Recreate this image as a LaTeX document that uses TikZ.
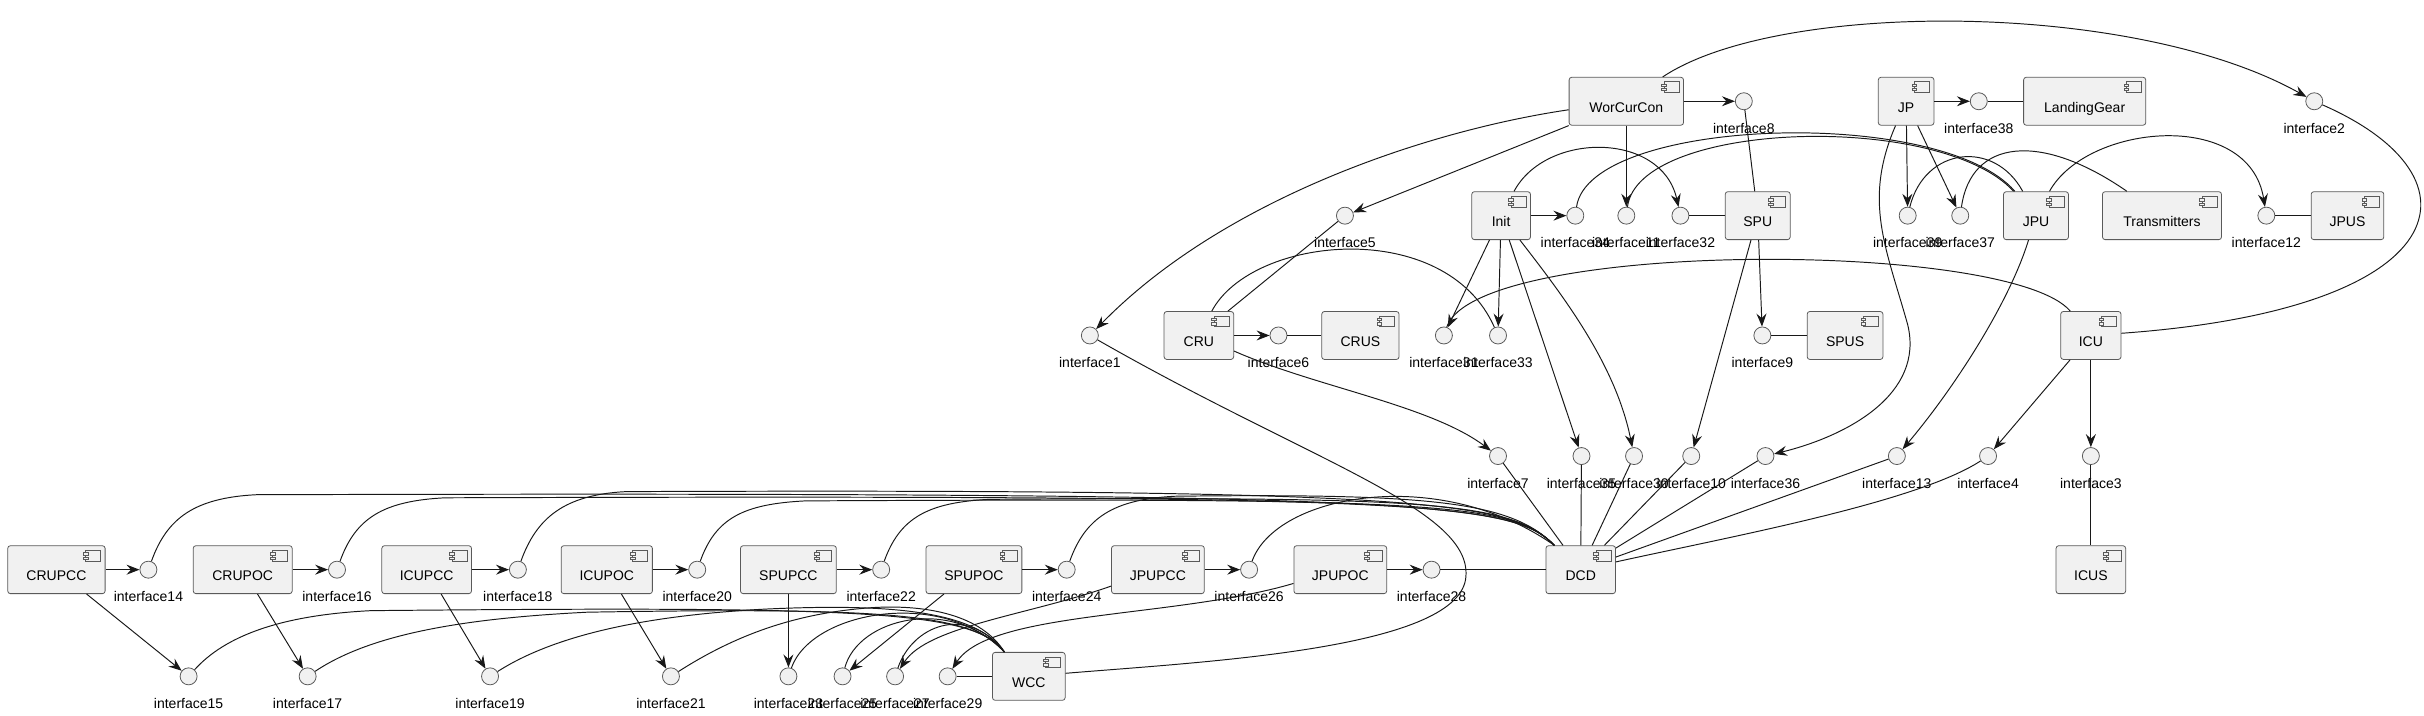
\documentclass[tikz,border=0pt]{standalone}
\usepackage{fontspec}
\setmainfont{Liberation Sans}
\usepackage{tikz}
\usetikzlibrary{arrows.meta, calc}
\definecolor{linec}{HTML}{181818}
\definecolor{boxline}{HTML}{5A5A5A}
\definecolor{boxfill}{HTML}{F1F1F1}
\newcommand{\upx}{0.03092cm}
\newcommand{\plfont}{\fontsize{7.97pt}{9.5pt}\selectfont}
\tikzset{
  unit box/.style={
    draw=boxline, fill=boxfill, line width=0.45pt,
    rounded corners=1.5pt,
    minimum height=31*\upx,
    inner sep=0pt, text height=12.5pt, text depth=0pt,
    font=\plfont
  },
  port/.style={
    circle, draw=boxline, fill=boxfill, line width=0.45pt,
    minimum size=11*\upx, inner sep=0pt
  },
  port label/.style={anchor=base, label distance=0.461cm, inner sep=0pt, font=\plfont},
  unit icon/.style={draw=boxline, fill=boxfill, line width=0.4pt},
  wire/.style={draw=linec, line width=0.55pt},
  use arrow/.style={wire, -{Stealth[length=0.26cm, width=0.2cm, inset=0.09cm]}}
}

\begin{document}
\begin{tikzpicture}[x=0.03092cm, y=-0.03092cm]
  \useasboundingbox (0,0) rectangle (1568,463);

  % components
  \foreach \n/\x/\y/\w in {WorCurCon/1052/65.5/74, JP/1233/65.5/36, LandingGear/1348.5/65.5/79,
      Init/971/139.5/38, SPU/1137/139.5/42, JPU/1317/139.5/42, Transmitters/1398.5/139.5/77,
      JPUS/1518.5/139.5/47, CRU/775.5/217/45, CRUS/880/217/50, SPUS/1193.5/217/49,
      ICU/1352.5/217/39, DCD/1022.5/368.5/45, ICUS/1352.5/368.5/45,
      CRUPCC/36.5/368.5/63, CRUPOC/157/368.5/64, ICUPCC/276/368.5/58, ICUPOC/392.5/368.5/59,
      SPUPCC/510/368.5/62, SPUPOC/630/368.5/62, JPUPCC/749/368.5/60, JPUPOC/867/368.5/60,
      WCC/665.5/437.5/47}
  {
    \node[unit box, minimum width=\w*\upx] (\n) at (\x,\y) {\n\hspace{6.5pt}};
    \draw[unit icon] ($(\n.north east)+(-12.9,3.2)$) rectangle ++(9.7,6.9);
    \draw[unit icon] ($(\n.north east)+(-14.4,4.7)$) rectangle ++(3,1.5);
    \draw[unit icon] ($(\n.north east)+(-14.4,7.5)$) rectangle ++(3,1.5);
  }

  % interfaces
  \foreach \k/\x/\y in {1/705/217, 2/1497/65.5, 3/1352.5/295, 4/1286/295, 5/870/139.5,
      6/827/217, 7/969/295, 8/1128/65.5, 9/1140/217, 10/1094/295, 11/1052/139.5,
      12/1466/139.5, 13/1227/295, 14/96/368.5, 15/122/437.5, 16/218/368.5, 17/199/437.5,
      18/335/368.5, 19/317/437.5, 20/451/368.5, 21/434/437.5, 22/570/368.5, 23/510/437.5,
      24/690/368.5, 25/545/437.5, 26/808/368.5, 27/579/437.5, 28/926/368.5, 29/613/437.5,
      30/1057/295, 31/934/217, 32/1087/139.5, 33/969/217, 34/1019/139.5, 35/1023/295,
      36/1142/295, 37/1268/139.5, 38/1280/65.5, 39/1234/139.5}
    \node[port, label={[port label]below:interface\k}] (i\k) at (\x,\y) {};

  % upper part
  \draw[use arrow] (WorCurCon) -- (i8);
  \draw[wire] (i8) -- (SPU);
  \draw[use arrow] (WorCurCon) .. controls (1150,0) and (1380,0) .. (i2);
  \draw[wire] (i2) .. controls (1610,115) and (1590,200) .. (ICU);
  \draw[use arrow] (WorCurCon) .. controls (920,85) and (790,130) .. (i1);
  \draw[wire] (i1) .. controls (850,300) and (955,330) .. (948,375)
    .. controls (940,420) and (780,428) .. (WCC);
  \draw[use arrow] (WorCurCon.south west) -- (i5);
  \draw[wire] (i5) -- (CRU.40);
  \draw[use arrow] (WorCurCon) -- (i11);
  \draw[wire] (i11) .. controls (1060,78) and (1255,72) .. (JPU);

  \draw[use arrow] (Init) -- (i34);
  \draw[wire] (i34) .. controls (1028,76) and (1255,68) .. (JPU);
  \draw[use arrow] (Init) .. controls (1000,85) and (1075,85) .. (i32);
  \draw[wire] (i32) -- (SPU);
  \draw[use arrow] (Init) -- (i31);
  \draw[use arrow] (Init) -- (i33);
  \draw[use arrow] (Init) -- (i35);
  \draw[use arrow] (Init) .. controls (1010,190) and (1045,235) .. (i30);

  \draw[use arrow] (SPU) -- (i9);
  \draw[wire] (i9) -- (SPUS);
  \draw[use arrow] (SPU) -- (i10);

  \draw[use arrow] (CRU) -- (i6);
  \draw[wire] (i6) -- (CRUS);
  \draw[wire] (CRU) .. controls (810,152) and (935,140) .. (i33);
  \draw[use arrow] (CRU) .. controls (850,250) and (925,262) .. (i7);

  \draw[use arrow] (JP) -- (i38);
  \draw[wire] (i38) -- (LandingGear);
  \draw[use arrow] (JP) -- (i39);
  \draw[wire] (i39) .. controls (1245,95) and (1290,90) .. (JPU);
  \draw[use arrow] (JP) -- (i37);
  \draw[wire] (i37) .. controls (1275,90) and (1320,85) .. (Transmitters);
  \draw[use arrow] (JP) .. controls (1205,130) and (1220,160) .. (1234,210)
    .. controls (1245,255) and (1195,282) .. (i36);

  \draw[use arrow] (JPU) .. controls (1350,80) and (1455,70) .. (i12);
  \draw[wire] (i12) -- (JPUS);
  \draw[use arrow] (JPU) .. controls (1300,195) and (1265,250) .. (i13);

  \draw[use arrow] (ICU) -- (i3);
  \draw[wire] (i3) -- (ICUS);
  \draw[use arrow] (ICU) -- (i4);
  \draw[wire] (ICU) .. controls (1300,155) and (955,155) .. (i31);

  % into DCD
  \draw[wire] (i4) .. controls (1240,325) and (1120,347) .. (DCD);
  \foreach \k in {7,13,30,35,36,10,28}
    \draw[wire] (i\k) -- (DCD);

  % lower row
  \foreach \c/\k in {CRUPCC/14, CRUPOC/16, ICUPCC/18, ICUPOC/20, SPUPCC/22, SPUPOC/24,
      JPUPCC/26, JPUPOC/28}
    \draw[use arrow] (\c) -- (i\k);
  \foreach \c/\k in {CRUPCC/15, CRUPOC/17, ICUPCC/19, ICUPOC/21, SPUPCC/23, SPUPOC/25}
    \draw[use arrow] (\c) -- (i\k);
  \draw[use arrow] (JPUPCC) .. controls (665,398) and (600,405) .. (i27);
  \draw[use arrow] (JPUPOC) .. controls (760,400) and (640,395) .. (i29);
  \draw[wire] (i29) -- (WCC);

  \foreach \k/\x/\f in {14/96/320, 16/218/322, 18/335/318, 20/451/324, 22/570/323, 24/690/321}
    \draw[wire] (i\k) .. controls (\x+12,335) and (\x+30,\f+2) .. (\x+70,\f)
      .. controls (930,\f-2) and (978,325) .. ([xshift=5pt]DCD.north west);
  \draw[wire] (i26) .. controls (825,320) and (930,300) .. ([xshift=5pt]DCD.north west);

  \draw[wire] (i15) .. controls (145,412) and (180,398) .. (240,395)
    .. controls (560,392) and (630,395) .. ([xshift=7pt]WCC.north west);
  \draw[wire] (i17) .. controls (240,410) and (300,400) .. (380,396)
    .. controls (565,393) and (630,396) .. ([xshift=7pt]WCC.north west);
  \draw[wire] (i19) .. controls (360,410) and (420,398) .. (495,394)
    .. controls (580,390) and (632,396) .. ([xshift=7pt]WCC.north west);
  \draw[wire] (i21) .. controls (480,408) and (520,396) .. (565,393)
    .. controls (600,391) and (635,398) .. ([xshift=7pt]WCC.north west);
  \draw[wire] (i23) .. controls (525,395) and (610,380) .. ([xshift=7pt]WCC.north west);
  \draw[wire] (i25) .. controls (555,400) and (615,385) .. ([xshift=7pt]WCC.north west);
  \draw[wire] (i27) .. controls (590,405) and (625,390) .. ([xshift=7pt]WCC.north west);
\end{tikzpicture}
\end{document}
